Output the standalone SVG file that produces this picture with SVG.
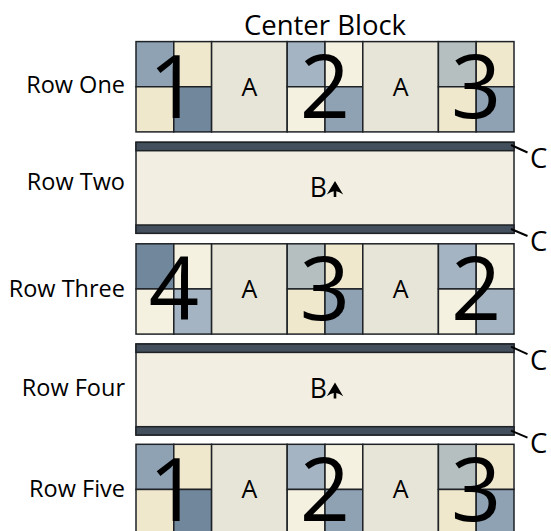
<svg xmlns="http://www.w3.org/2000/svg" width="551" height="531" viewBox="0 0 551 531">
<defs>
<style>
.c{stroke:#1e2226;stroke-width:1.5}
.s{fill:#71889c}.b{fill:#8fa2b4}.lb{fill:#a5b4c2}.gg{fill:#b5bfbf}.cr{fill:#efe8cd}.lc{fill:#f4f1e0}.a{fill:#e7e5d7}
.bf{fill:#f2eee1}.band{fill:#444f5d}
text{font-family:"Open Sans","Liberation Sans",sans-serif;fill:#000}
.lbl{font-size:23.5px;text-anchor:end}
.dig{font-size:88px;text-anchor:middle}
.al{font-size:25px;text-anchor:middle}
.bt{font-size:26.5px;text-anchor:middle}
.ct{font-size:27.5px}
.ld{stroke:#000;stroke-width:2;fill:none}
</style>
<path id="arr" d="M335,38.6 L343.2,52.2 Q339,49.2 336.3,49 L336.3,54.6 L333.7,54.6 L333.7,49 Q331,49.2 326.8,52.2 Z" fill="#000"/>
</defs>
<rect width="551" height="531" fill="#fff"/>
<text id="title" x="325" y="35" style="font-size:27.5px" text-anchor="middle">Center Block</text>

<g id="row-one" transform="translate(0,41.6)">
<text class="lbl" x="125" y="51">Row One</text>
<rect class="c b" x="136" y="0" width="37.8" height="45.15"/>
<rect class="c cr" x="173.8" y="0" width="37.8" height="45.15"/>
<rect class="c cr" x="136" y="45.15" width="37.8" height="45.15"/>
<rect class="c s" x="173.8" y="45.15" width="37.8" height="45.15"/>
<rect class="c a" x="211.6" y="0" width="75.6" height="90.3"/>
<rect class="c lb" x="287.2" y="0" width="37.8" height="45.15"/>
<rect class="c lc" x="325" y="0" width="37.8" height="45.15"/>
<rect class="c lc" x="287.2" y="45.15" width="37.8" height="45.15"/>
<rect class="c b" x="325" y="45.15" width="37.8" height="45.15"/>
<rect class="c a" x="362.8" y="0" width="75.6" height="90.3"/>
<rect class="c gg" x="438.4" y="0" width="37.8" height="45.15"/>
<rect class="c cr" x="476.2" y="0" width="37.8" height="45.15"/>
<rect class="c cr" x="438.4" y="45.15" width="37.8" height="45.15"/>
<rect class="c b" x="476.2" y="45.15" width="37.8" height="45.15"/>
<text class="dig" x="173.8" y="76.5">1</text>
<text class="al" x="249.4" y="54">A</text>
<text class="dig" x="325" y="76.5">2</text>
<text class="al" x="400.6" y="54">A</text>
<text class="dig" x="476.2" y="76.5">3</text>
</g>

<g id="row-two" transform="translate(0,142.3)">
<text class="lbl" x="125" y="48">Row Two</text>
<rect class="c bf" x="136" y="0" width="378" height="91"/>
<rect class="c band" x="136" y="0" width="378" height="8.4"/>
<rect class="c band" x="136" y="82.7" width="378" height="8.3"/>
<text class="bt" x="318.3" y="54.4">B</text>
<use href="#arr"/>
<text class="ct" x="530" y="25.5">C</text>
<text class="ct" x="530" y="108.5">C</text>
</g>

<g id="row-three" transform="translate(0,243.8)">
<text class="lbl" x="125" y="53">Row Three</text>
<rect class="c s" x="136" y="0" width="37.8" height="45.15"/>
<rect class="c lc" x="173.8" y="0" width="37.8" height="45.15"/>
<rect class="c lc" x="136" y="45.15" width="37.8" height="45.15"/>
<rect class="c lb" x="173.8" y="45.15" width="37.8" height="45.15"/>
<rect class="c a" x="211.6" y="0" width="75.6" height="90.3"/>
<rect class="c gg" x="287.2" y="0" width="37.8" height="45.15"/>
<rect class="c cr" x="325" y="0" width="37.8" height="45.15"/>
<rect class="c cr" x="287.2" y="45.15" width="37.8" height="45.15"/>
<rect class="c b" x="325" y="45.15" width="37.8" height="45.15"/>
<rect class="c a" x="362.8" y="0" width="75.6" height="90.3"/>
<rect class="c lb" x="438.4" y="0" width="37.8" height="45.15"/>
<rect class="c lc" x="476.2" y="0" width="37.8" height="45.15"/>
<rect class="c lc" x="438.4" y="45.15" width="37.8" height="45.15"/>
<rect class="c lb" x="476.2" y="45.15" width="37.8" height="45.15"/>
<text class="dig" x="173.8" y="76.5">4</text>
<text class="al" x="249.4" y="54">A</text>
<text class="dig" x="325" y="76.5">3</text>
<text class="al" x="400.6" y="54">A</text>
<text class="dig" x="476.2" y="76.5">2</text>
</g>

<g id="row-four" transform="translate(0,344)">
<text class="lbl" x="125" y="52">Row Four</text>
<rect class="c bf" x="136" y="0" width="378" height="91"/>
<rect class="c band" x="136" y="0" width="378" height="8.4"/>
<rect class="c band" x="136" y="82.7" width="378" height="8.3"/>
<text class="bt" x="318.3" y="54.4">B</text>
<use href="#arr"/>
<text class="ct" x="530" y="25.5">C</text>
<text class="ct" x="530" y="108.5">C</text>
</g>

<g id="row-five" transform="translate(0,444.3)">
<text class="lbl" x="125" y="53">Row Five</text>
<rect class="c b" x="136" y="0" width="37.8" height="45.15"/>
<rect class="c cr" x="173.8" y="0" width="37.8" height="45.15"/>
<rect class="c cr" x="136" y="45.15" width="37.8" height="45.15"/>
<rect class="c s" x="173.8" y="45.15" width="37.8" height="45.15"/>
<rect class="c a" x="211.6" y="0" width="75.6" height="90.3"/>
<rect class="c lb" x="287.2" y="0" width="37.8" height="45.15"/>
<rect class="c lc" x="325" y="0" width="37.8" height="45.15"/>
<rect class="c lc" x="287.2" y="45.15" width="37.8" height="45.15"/>
<rect class="c b" x="325" y="45.15" width="37.8" height="45.15"/>
<rect class="c a" x="362.8" y="0" width="75.6" height="90.3"/>
<rect class="c gg" x="438.4" y="0" width="37.8" height="45.15"/>
<rect class="c cr" x="476.2" y="0" width="37.8" height="45.15"/>
<rect class="c cr" x="438.4" y="45.15" width="37.8" height="45.15"/>
<rect class="c b" x="476.2" y="45.15" width="37.8" height="45.15"/>
<text class="dig" x="173.8" y="76.5">1</text>
<text class="al" x="249.4" y="54">A</text>
<text class="dig" x="325" y="76.5">2</text>
<text class="al" x="400.6" y="54">A</text>
<text class="dig" x="476.2" y="76.5">3</text>
</g>

<g id="connectors">
<line class="ld" x1="511" y1="145" x2="527.5" y2="152.5"/>
<line class="ld" x1="511" y1="229" x2="527.5" y2="236"/>
<line class="ld" x1="511" y1="346.7" x2="527.5" y2="354.2"/>
<line class="ld" x1="511" y1="430.7" x2="527.5" y2="437.7"/>
</g>
</svg>
